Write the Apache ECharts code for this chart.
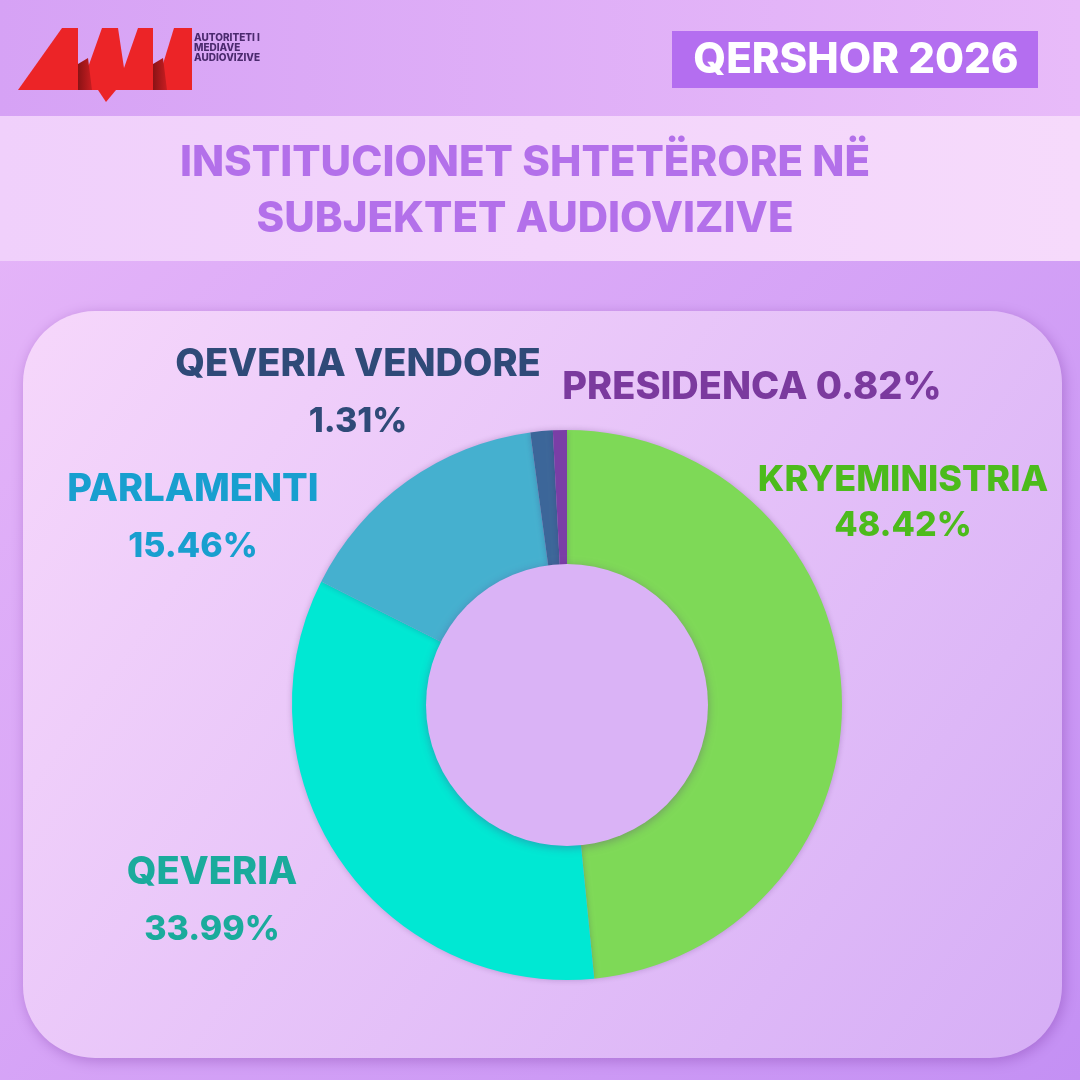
<!DOCTYPE html>
<html><head><meta charset="utf-8">
<script src="https://cdn.jsdelivr.net/npm/echarts@6/dist/echarts.min.js"></script>
<style>html,body{margin:0;padding:0;}#c{width:1080px;height:1080px;}</style>
</head><body><div id="c"></div>
<script>
const categories = ['KRYEMINISTRIA', 'QEVERIA', 'PARLAMENTI', 'QEVERIA VENDORE', 'PRESIDENCA'];
const values = [48.42, 33.99, 15.46, 1.31, 0.82];
const sliceColors = ['#7ed957', '#00e8d3', '#45b0cf', '#3c6699', '#7a3ea6'];
const labelColors = ['#4cbb1c', '#1aab9c', '#189fcf', '#2f4a78', '#7b3a9e'];
const titleLines = ['INSTITUCIONET SHTETËRORE NË', 'SUBJEKTET AUDIOVIZIVE'];
const dateLabel = 'QERSHOR 2026';
const logoText = ['AUTORITETI I', 'MEDIAVE', 'AUDIOVIZIVE'];

const labelPos = [[903, 503], [212, 901], [193, 518], [358, 393], [752, 388]];
const FONT = 'Inter, "Open Sans", sans-serif';

const chart = echarts.init(document.getElementById('c'), null, {renderer: 'canvas'});

function lin(x, y, x2, y2, c1, c2) {
  return {type: 'linear', x, y, x2, y2, colorStops: [{offset: 0, color: c1}, {offset: 1, color: c2}]};
}

const RED = '#ec2427', DARK = '#8a1315';
const graphics = [
  {type: 'rect', z: -20, shape: {x: 0, y: 0, width: 1080, height: 1080}, style: {fill: lin(0, 0, 1, 1, '#e8b8f9', '#c490f4')}},
  {type: 'rect', z: -19, shape: {x: 0, y: 0, width: 1080, height: 116}, style: {fill: lin(0, 0, 1, 0, '#d6a2f5', '#e8bbf9')}},
  {type: 'rect', z: -19, shape: {x: 0, y: 116, width: 1080, height: 145}, style: {fill: lin(0, 0, 1, 0, '#f0d0fb', '#f6dafb')}},
  {type: 'rect', z: -18, shape: {x: 23, y: 311, width: 1039, height: 747, r: 72},
    style: {fill: lin(0, 0, 1, 1, '#f6d7fb', '#d6aef6'), shadowBlur: 14, shadowColor: 'rgba(110,40,150,0.35)', shadowOffsetX: 2, shadowOffsetY: 3}},
  // date box
  {type: 'rect', z: -10, shape: {x: 672, y: 31, width: 366, height: 57}, style: {fill: '#b46ef0'}},
  {type: 'text', z: 10, x: 856, y: 60, style: {text: dateLabel, fill: '#ffffff', font: '800 42px ' + FONT, align: 'center', verticalAlign: 'middle'}},
  // title
  {type: 'text', z: 10, x: 525, y: 163, style: {text: titleLines[0], fill: '#b370ea', font: '800 42px ' + FONT, align: 'center', verticalAlign: 'middle'}},
  {type: 'text', z: 10, x: 525, y: 219, style: {text: titleLines[1], fill: '#b370ea', font: '800 42px ' + FONT, align: 'center', verticalAlign: 'middle'}},
  // logo
  {type: 'polygon', z: 5, shape: {points: [[18, 90], [62, 28], [78, 28], [78, 90]]}, style: {fill: RED}},
  {type: 'polygon', z: 5, shape: {points: [[80, 90], [102, 28], [118, 28], [124, 68], [138, 28], [153, 28], [153, 90]]}, style: {fill: RED}},
  {type: 'polygon', z: 5, shape: {points: [[98, 90], [116, 90], [106, 102]]}, style: {fill: RED}},
  {type: 'polygon', z: 5, shape: {points: [[155, 90], [174, 28], [192, 28], [192, 90]]}, style: {fill: RED}},
  {type: 'polygon', z: 6, shape: {points: [[78, 90], [78, 64], [88, 58], [92, 90]]}, style: {fill: lin(0, 0, 1, 0, DARK, '#c81d21')}},
  {type: 'polygon', z: 6, shape: {points: [[153, 90], [153, 64], [163, 58], [167, 90]]}, style: {fill: lin(0, 0, 1, 0, DARK, '#c81d21')}},
  {type: 'text', z: 10, x: 194, y: 33, style: {text: logoText.join('\n'), fill: '#4b2a6e', font: '800 10px ' + FONT, lineHeight: 10, verticalAlign: 'top'}},
  // inner hole
  {type: 'circle', z: 50, shape: {cx: 567, cy: 705, r: 141},
    style: {fill: '#dab3f6', shadowBlur: 10, shadowColor: 'rgba(90,40,120,0.35)', shadowOffsetY: 2}}
];

const data = categories.map((n, i) => ({
  name: n, value: values[i],
  itemStyle: {color: sliceColors[i]},
  label: {color: labelColors[i], rich: {
    a: {fontSize: i === 0 ? 36 : 38, fontWeight: 800, fontFamily: FONT, color: labelColors[i], lineHeight: i === 0 ? 46 : 57, align: 'center'},
    b: {fontSize: 34, fontWeight: 800, fontFamily: FONT, color: labelColors[i], lineHeight: i === 0 ? 46 : 57, align: 'center'}
  }}
}));

chart.setOption({
  animation: false,
  graphic: {elements: graphics},
  series: [{
    type: 'pie', z: 20,
    center: [567, 705], radius: [140, 275],
    startAngle: 90, clockwise: true,
    data: data,
    itemStyle: {borderWidth: 0, shadowBlur: 6, shadowColor: 'rgba(60,20,90,0.25)'},
    label: {
      show: true, position: 'outside', overflow: 'none', width: 600,
      formatter: p => p.dataIndex === 4 ? '{a|' + p.name + ' ' + p.value.toFixed(2) + '%}' : '{a|' + p.name + '}\n{b|' + p.value.toFixed(2) + '%}'
    },
    labelLine: {show: false},
    labelLayout: p => ({x: labelPos[p.dataIndex][0], y: labelPos[p.dataIndex][1], align: 'center', verticalAlign: 'middle'}),
    emphasis: {disabled: true}
  }]
});
</script></body></html>
